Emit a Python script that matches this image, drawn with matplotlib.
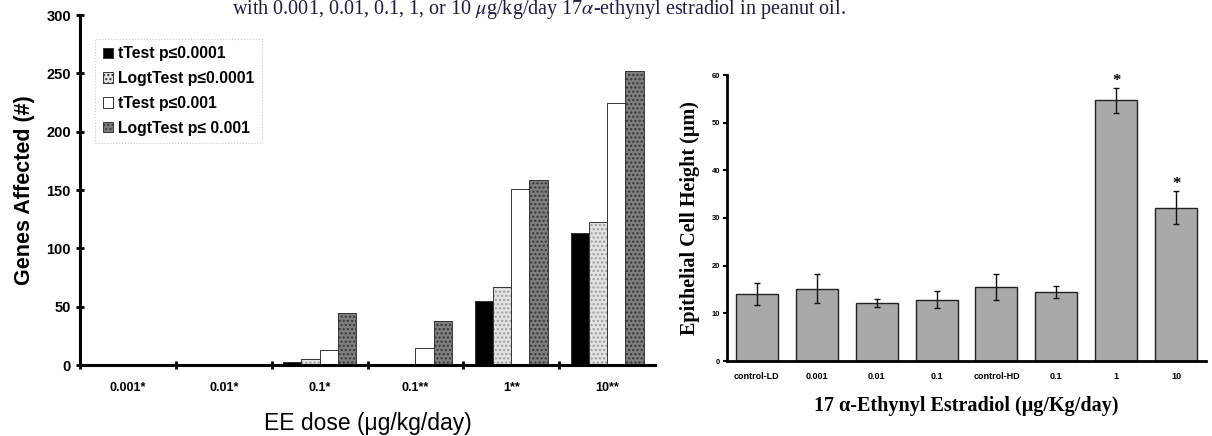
import matplotlib
matplotlib.use("Agg")
import matplotlib.pyplot as plt
import numpy as np
from matplotlib.patches import Patch

plt.rcParams["mathtext.fontset"] = "stix"

# ---- left chart data ----
doses = ["0.001*", "0.01*", "0.1*", "0.1**", "1**", "10**"]
series_names = ["tTest p\u22640.0001", "LogtTest p\u22640.0001", "tTest p\u22640.001", "LogtTest p\u2264 0.001"]
ttest_0001 = [0, 0, 3, 1, 55, 113]
logt_0001 = [0, 0, 5, 0, 67, 123]
ttest_001 = [0, 0, 13, 15, 151, 225]
logt_001 = [0, 0, 45, 38, 159, 252]

# ---- right chart data ----
groups = ["control-LD", "0.001", "0.01", "0.1", "control-HD", "0.1", "1", "10"]
heights = [14.0, 15.2, 12.2, 12.9, 15.5, 14.5, 54.7, 32.2]
errors = [2.3, 3.1, 0.8, 1.7, 2.8, 1.3, 2.6, 3.5]
significant = [False, False, False, False, False, False, True, True]

W, H = 1212, 436
fig = plt.figure(figsize=(W / 100, H / 100), dpi=100)

sans = ["Liberation Sans", "DejaVu Sans"]
serif = ["Liberation Serif", "DejaVu Serif"]

# header text
fig.text(232 / W, 1 - 14 / H, "with 0.001, 0.01, 0.1, 1, or 10 $\\mu$g/kg/day 17$\\alpha$-ethynyl estradiol in peanut oil.",
         family=serif, fontsize=14.5, color="#1c1c40", ha="left", va="baseline")

# ---------- left axes ----------
ax = fig.add_axes([80 / W, 1 - 365 / H, (655 - 80) / W, (365 - 15) / H])
x = np.arange(len(doses))
bw = 0.19
offs = np.array([-1.5, -0.5, 0.5, 1.5]) * bw
styles = [
    dict(face="black", hatch=None, hcol="black"),
    dict(face="#e2e2e2", hatch="....", hcol="#9a9a9a"),
    dict(face="white", hatch=None, hcol="white"),
    dict(face="#7e7e7e", hatch="....", hcol="#333333"),
]
data = [ttest_0001, logt_0001, ttest_001, logt_001]
for vals, off, st in zip(data, offs, styles):
    ax.bar(x + off, vals, bw, color=st["face"], edgecolor=st["hcol"], hatch=st["hatch"], linewidth=0)
    ax.bar(x + off, vals, bw, fill=False, edgecolor="#333333", linewidth=0.7)

ax.set_xlim(-0.5, 5.5)
ax.set_ylim(0, 300)
ax.set_yticks(range(0, 301, 50))
ax.set_xticks(x)
ax.set_xticklabels(doses)
ax.set_xticks(np.arange(-0.5, 5.0, 1.0), minor=True)
ax.tick_params(axis="x", which="major", length=0, pad=12)
ax.tick_params(axis="x", which="minor", direction="inout", length=6, width=2)
ax.tick_params(axis="y", direction="inout", length=6, width=2)
for lab in ax.get_xticklabels():
    lab.set_family(sans); lab.set_fontweight("bold"); lab.set_fontsize(9)
for lab in ax.get_yticklabels():
    lab.set_family(sans); lab.set_fontweight("bold"); lab.set_fontsize(10.5)
for s in ["top", "right"]:
    ax.spines[s].set_visible(False)
for s in ["left", "bottom"]:
    ax.spines[s].set_linewidth(2.2)
ax.set_ylabel("Genes Affected (#)", family=sans, fontweight="bold", fontsize=15.5, labelpad=8)
ax.set_xlabel("EE dose (\u03bcg/kg/day)", family=sans, fontsize=16.5, labelpad=13)

handles = [Patch(facecolor=st["face"], edgecolor="#333333", hatch=st["hatch"], linewidth=0.7) for st in styles]
leg = ax.legend(handles, series_names, loc="upper left", bbox_to_anchor=(0.012, 0.955),
                prop=dict(family=sans, weight="bold", size=11.3), handlelength=0.65, handleheight=0.65,
                handletextpad=0.3, labelspacing=0.62, borderpad=0.5, fancybox=False, framealpha=1)
leg.get_frame().set_edgecolor("#c8c8c8")
leg.get_frame().set_linestyle(":")
leg.get_frame().set_linewidth(0.8)

# ---------- right axes ----------
ax2 = fig.add_axes([727 / W, 1 - 361 / H, (1206 - 727) / W, (361 - 75) / H])
xr = np.arange(len(groups))
ax2.bar(xr, heights, 0.7, color="#a9a9a9", edgecolor="#222222", linewidth=1.0)
ax2.errorbar(xr, heights, yerr=errors, fmt="none", ecolor="#111111", elinewidth=1.0, capsize=2.5, capthick=1.0)
for xi, h, e, sig in zip(xr, heights, errors, significant):
    if sig:
        ax2.text(xi, h + e - 0.2, "*", ha="center", va="bottom", fontsize=12, family=serif, fontweight="bold")
ax2.set_xlim(-0.5, 7.5)
ax2.set_ylim(0, 60)
ax2.set_yticks(range(0, 61, 10))
ax2.set_xticks(xr)
ax2.set_xticklabels(groups)
ax2.tick_params(axis="x", length=0, pad=8)
ax2.tick_params(axis="y", direction="out", length=3, width=1.5, pad=2)
for lab in ax2.get_xticklabels():
    lab.set_family(sans); lab.set_fontweight("bold"); lab.set_fontsize(6.5)
for lab in ax2.get_yticklabels():
    lab.set_family(sans); lab.set_fontweight("bold"); lab.set_fontsize(5.5)
for s in ["top", "right"]:
    ax2.spines[s].set_visible(False)
for s in ["left", "bottom"]:
    ax2.spines[s].set_linewidth(2.0)
ax2.set_ylabel("Epithelial Cell Height (\u03bcm)", family=serif, fontweight="bold", fontsize=14.5, labelpad=8)
ax2.set_xlabel("17 \u03b1-Ethynyl Estradiol (\u03bcg/Kg/day)", family=serif, fontweight="bold", fontsize=14.5, labelpad=11)

fig.savefig("out.png", dpi=100)
